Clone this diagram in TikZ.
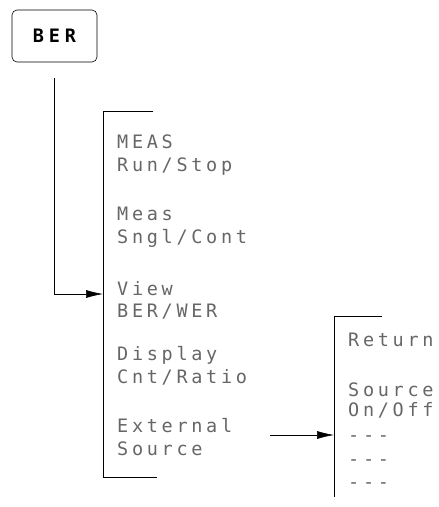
\documentclass[tikz,border=0pt]{standalone}
\usepackage{fontspec}
\usetikzlibrary{arrows.meta, positioning}
\newfontfamily\keyfont[LetterSpace=20]{DejaVu Sans Mono}
\newfontfamily\hardfont[LetterSpace=26]{DejaVu Sans Mono Bold}

\begin{document}
\begin{tikzpicture}[x=1pt, y=-1pt,
    key/.style={anchor=base west, inner sep=0pt, text=black!60, font=\keyfont\fontsize{18.5pt}{20pt}\selectfont},
    hard/.style={draw, rounded corners=5pt, line width=0.6pt, minimum width=85pt, minimum height=52pt, inner sep=0pt, font=\hardfont\fontsize{18.5pt}{20pt}\selectfont},
    menu/.style={anchor=west, inner sep=0pt, minimum width=#1},
    line/.style={line width=0.6pt},
    arr/.style={-{Latex[length=17pt, width=8pt]}, line width=0.6pt}]
    \useasboundingbox (0,0) rectangle (439,507);
    \node[hard] (ber) at (54.5,36) {BER};
    % first softkey menu
    \node[menu=50pt, minimum height=366pt] (menuA) at (103,294) {};
    \draw[line] (menuA.north east) -- (menuA.north west) -- (menuA.south west) -- ([xshift=4pt]menuA.south east);
    \node[key] (measA) at (117,148) {MEAS};
    \node[key] (measB) at (117,171) {Run/Stop};
    \node[key] (snglA) at (117,220) {Meas};
    \node[key] (snglB) at (117,243) {Sngl/Cont};
    \node[key] (viewA) at (117,295) {View};
    \node[key] (viewB) at (117,317) {BER/WER};
    \node[key] (dispA) at (117,360) {Display};
    \node[key] (dispB) at (117,383) {Cnt/Ratio};
    \node[key] (extA)  at (117,432) {External};
    \node[key] (extB)  at (117,455) {Source};
    % second softkey menu
    \node[menu=48pt, minimum height=181pt] (menuB) at (334,406.5) {};
    \draw[line] (menuB.north east) -- (menuB.north west) -- (menuB.south west);
    \node[key] (ret)   at (348,346) {Return};
    \node[key] (srcA)  at (348,396) {Source};
    \node[key] (srcB)  at (348,416) {On/Off};
    \node[key] (nilA)  at (348,441) {-{}-{}-};
    \node[key] (nilB)  at (348,465) {-{}-{}-};
    \node[key] (nilC)  at (348,488) {-{}-{}-};
    \coordinate (extout) at (270,435);
    \draw[arr, shorten <=16pt] (ber.south) |- (menuA.west);
    \draw[arr] (extout) -- (extout -| menuB.west);
\end{tikzpicture}
\end{document}
